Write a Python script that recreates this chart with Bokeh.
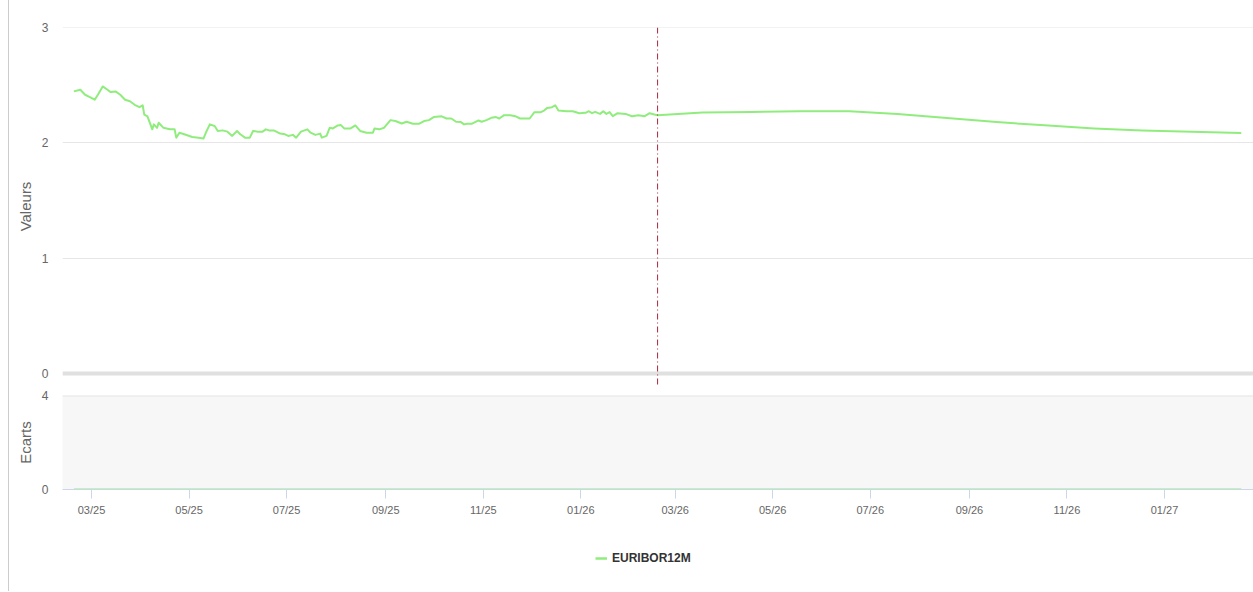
import pandas as pd
from bokeh.plotting import figure
from bokeh.layouts import column
from bokeh.models import (Range1d, FixedTicker, DatetimeTickFormatter, Legend, LegendItem,
                          ColumnDataSource)
from bokeh.embed import file_html
from bokeh.resources import INLINE

# ---------------- data ----------------
series_name = "EURIBOR12M"

hist_dates = [
    "2025-02-18", "2025-02-22", "2025-02-25", "2025-02-28", "2025-03-03", "2025-03-05", "2025-03-08",
    "2025-03-11", "2025-03-13", "2025-03-16", "2025-03-19", "2025-03-22", "2025-03-25", "2025-03-28",
    "2025-03-31", "2025-04-02", "2025-04-03", "2025-04-05", "2025-04-08", "2025-04-09", "2025-04-11",
    "2025-04-12", "2025-04-15", "2025-04-19", "2025-04-22", "2025-04-23", "2025-04-25", "2025-04-28",
    "2025-05-03", "2025-05-07", "2025-05-10", "2025-05-12", "2025-05-14", "2025-05-17", "2025-05-19",
    "2025-05-22", "2025-05-25", "2025-05-28", "2025-05-31", "2025-06-02", "2025-06-05", "2025-06-08",
    "2025-06-10", "2025-06-13", "2025-06-16", "2025-06-18", "2025-06-20",
    "2025-06-23", "2025-06-27", "2025-06-30", "2025-07-02", "2025-07-05", "2025-07-07", "2025-07-10",
    "2025-07-14", "2025-07-16", "2025-07-19", "2025-07-22", "2025-07-23", "2025-07-26", "2025-07-28",
    "2025-07-30", "2025-08-02", "2025-08-04", "2025-08-06", "2025-08-10", "2025-08-13", "2025-08-16",
    "2025-08-20", "2025-08-24", "2025-08-25", "2025-08-28", "2025-08-31", "2025-09-04", "2025-09-07",
    "2025-09-11", "2025-09-14", "2025-09-18", "2025-09-22", "2025-09-25", "2025-09-28", "2025-10-01",
    "2025-10-06", "2025-10-09", "2025-10-12", "2025-10-15", "2025-10-18", "2025-10-20", "2025-10-22",
    "2025-10-25", "2025-10-29", "2025-10-31", "2025-11-03", "2025-11-06", "2025-11-09", "2025-11-11",
    "2025-11-14", "2025-11-18", "2025-11-21", "2025-11-24", "2025-11-30", "2025-12-03", "2025-12-07",
    "2025-12-09", "2025-12-11", "2025-12-14", "2025-12-16", "2025-12-18", "2025-12-23", "2025-12-27",
    "2025-12-31", "2026-01-04", "2026-01-06", "2026-01-08", "2026-01-10", "2026-01-13", "2026-01-15",
    "2026-01-17", "2026-01-19", "2026-01-21", "2026-01-24", "2026-01-29", "2026-02-02", "2026-02-06",
    "2026-02-10", "2026-02-13", "2026-02-16", "2026-02-18",
]
hist_values = [
    2.446, 2.460, 2.417, 2.397, 2.374, 2.417, 2.489, 2.460, 2.440, 2.446,
    2.417, 2.374, 2.360, 2.330, 2.309, 2.326, 2.245, 2.230, 2.117, 2.160,
    2.130, 2.174, 2.130, 2.117, 2.117, 2.045, 2.088, 2.074, 2.051, 2.045,
    2.037, 2.103, 2.160, 2.146, 2.103, 2.108, 2.097, 2.060, 2.103, 2.074,
    2.045, 2.045, 2.103, 2.097, 2.097, 2.117, 2.108,
    2.108, 2.080, 2.074, 2.060, 2.069, 2.045, 2.097, 2.117, 2.088, 2.069,
    2.080, 2.045, 2.060, 2.131, 2.125, 2.151, 2.154, 2.125, 2.125, 2.151,
    2.103, 2.088, 2.088, 2.125, 2.117, 2.131, 2.197, 2.189, 2.168, 2.183,
    2.166, 2.166, 2.189, 2.197, 2.223, 2.230, 2.211, 2.211, 2.183, 2.180,
    2.160, 2.166,
    2.166, 2.194, 2.183, 2.197, 2.217, 2.223, 2.211, 2.240, 2.240, 2.231,
    2.211, 2.211, 2.266, 2.266, 2.280, 2.303, 2.309, 2.326, 2.280, 2.274,
    2.274, 2.257, 2.260, 2.274, 2.257, 2.268, 2.251, 2.274, 2.251, 2.266,
    2.231, 2.257, 2.251, 2.231, 2.240, 2.231, 2.257, 2.245, 2.240,
]

forecast_dates = [
    "2026-02-18", "2026-03-18", "2026-04-18", "2026-05-18", "2026-06-18", "2026-07-18", "2026-08-18",
    "2026-09-18", "2026-10-18", "2026-11-18", "2026-12-18", "2027-01-18", "2027-02-18",
]
forecast_values = [2.240, 2.262, 2.268, 2.274, 2.274, 2.250, 2.215, 2.180, 2.152, 2.125, 2.107, 2.096, 2.086]

ecart_dates = ["2025-02-18", "2027-02-18"]
ecart_values = [0.0, 0.0]

today_date = "2026-02-18"

valeurs_ticks = [0, 1, 2, 3]
ecarts_ticks = [0, 4]
x_tick_dates = ["2025-03-01", "2025-05-01", "2025-07-01", "2025-09-01", "2025-11-01", "2026-01-01",
                "2026-03-01", "2026-05-01", "2026-07-01", "2026-09-01", "2026-11-01", "2027-01-01"]

# ---------------- style / layout ----------------
FONT = "Liberation Sans"
GREEN = "#90ed7d"
GRID = "#e6e6e6"
AXIS_BLUE = "#ccd6eb"
LABEL_GREY = "#666666"
LEFT_RULE = "linear-gradient(to right, #ffffff 8px, #cccccc 8px, #cccccc 9px, #ffffff 9px)"

W = 1253
LEFT = 62
frame_w = W - LEFT
px_per_day = 1073 / 671.0
x_start = pd.Timestamp("2025-03-01") - pd.Timedelta(days=29 / px_per_day)
x_end = x_start + pd.Timedelta(days=frame_w / px_per_day)
xr = Range1d(x_start, x_end)

top_frame_h = 358
val_end = 3.0
val_start = val_end - top_frame_h / (346 / 3.0)


def style_common(fig):
    fig.outline_line_color = None
    fig.xgrid.visible = False
    fig.ygrid.visible = False
    fig.border_fill_color = None
    fig.styles = {"background": LEFT_RULE}


def style_yaxis(fig, title):
    ax = fig.yaxis[0]
    ax.axis_line_color = None
    ax.major_tick_line_color = None
    ax.minor_tick_line_color = None
    ax.major_label_standoff = 8
    ax.major_label_text_font = FONT
    ax.major_label_text_font_size = "12px"
    ax.major_label_text_color = LABEL_GREY
    ax.axis_label = title
    ax.axis_label_standoff = 5
    ax.axis_label_text_font = FONT
    ax.axis_label_text_font_size = "15px"
    ax.axis_label_text_font_style = "normal"
    ax.axis_label_text_color = LABEL_GREY


# ---------------- top panel: Valeurs ----------------
p_top = figure(width=W, frame_width=frame_w, frame_height=top_frame_h, x_axis_type="datetime",
               x_range=xr, y_range=Range1d(val_start, val_end), x_axis_location=None,
               output_backend="svg", toolbar_location=None,
               min_border_left=LEFT, min_border_right=0, min_border_top=27, min_border_bottom=0)
style_common(p_top)
p_top.background_fill_color = "white"
p_top.hspan(y=[t for t in valeurs_ticks if t > 0], line_color=GRID, line_width=1)
p_top.hspan(y=[0], line_color="#e0e0e0", line_width=4)

all_dates = pd.to_datetime(hist_dates + forecast_dates[1:])
all_values = hist_values + forecast_values[1:]
src = ColumnDataSource(dict(x=all_dates, y=all_values))
p_top.line("x", "y", source=src, line_color=GREEN, line_width=2, line_join="round")

t = pd.Timestamp(today_date)
p_top.segment(x0=[t], y0=[val_end], x1=[t], y1=[val_start], line_color="#a8283a",
              line_width=1, line_dash="6 3 1 3")

p_top.yaxis.ticker = FixedTicker(ticks=valeurs_ticks)
style_yaxis(p_top, "Valeurs")

# ---------------- bottom panel: Ecarts ----------------
p_bot = figure(width=W, frame_width=frame_w, frame_height=94, x_axis_type="datetime",
               x_range=xr, y_range=Range1d(ecarts_ticks[0], ecarts_ticks[-1]),
               output_backend="svg", toolbar_location=None,
               min_border_left=LEFT, min_border_right=0, min_border_top=10, min_border_bottom=30)
style_common(p_bot)
p_bot.background_fill_color = "#f7f7f7"
p_bot.hspan(y=[ecarts_ticks[-1]], line_color=GRID, line_width=2)
esrc = ColumnDataSource(dict(x=pd.to_datetime(ecart_dates), y=ecart_values))
p_bot.line("x", "y", source=esrc, line_color=GREEN, line_width=2)

p_bot.yaxis.ticker = FixedTicker(ticks=ecarts_ticks)
style_yaxis(p_bot, "Ecarts")

p_bot.xaxis.ticker = FixedTicker(ticks=[pd.Timestamp(d).value / 1e6 for d in x_tick_dates])
fmt = "%m/%y"
p_bot.xaxis.formatter = DatetimeTickFormatter(milliseconds=fmt, seconds=fmt, minsec=fmt, minutes=fmt,
                                              hourmin=fmt, hours=fmt, days=fmt, months=fmt, years=fmt)
p_bot.xaxis.axis_line_color = AXIS_BLUE
p_bot.xaxis.major_tick_line_color = AXIS_BLUE
p_bot.xaxis.major_tick_out = 9
p_bot.xaxis.major_tick_in = 0
p_bot.xaxis.minor_tick_line_color = None
p_bot.xaxis.major_label_standoff = 5
p_bot.xaxis.major_label_text_font = FONT
p_bot.xaxis.major_label_text_font_size = "11px"
p_bot.xaxis.major_label_text_color = LABEL_GREY

# ---------------- legend strip ----------------
p_leg = figure(width=W, height=72, x_range=Range1d(0, 1), y_range=Range1d(0, 1),
               x_axis_location=None, y_axis_location=None, output_backend="svg",
               toolbar_location=None, min_border=0, min_border_left=0, min_border_right=0,
               min_border_top=0, min_border_bottom=0)
style_common(p_leg)
p_leg.background_fill_color = None
# the series itself (its values lie outside this strip's ranges), used only for the legend key
key = p_leg.line("x", "y", source=src, line_color=GREEN, line_width=2.5)
legend = Legend(items=[LegendItem(label=series_name, renderers=[key])], location=(533, 23),
                orientation="horizontal", padding=0, margin=0, glyph_width=12, glyph_height=20,
                label_height=20, label_standoff=5, label_text_font=FONT, label_text_font_size="12px",
                label_text_font_style="bold", label_text_color="#333333",
                background_fill_alpha=0, border_line_alpha=0)
p_leg.add_layout(legend)

layout = column(p_top, p_bot, p_leg, spacing=0)
open("out.html", "w").write(file_html(layout, INLINE))
